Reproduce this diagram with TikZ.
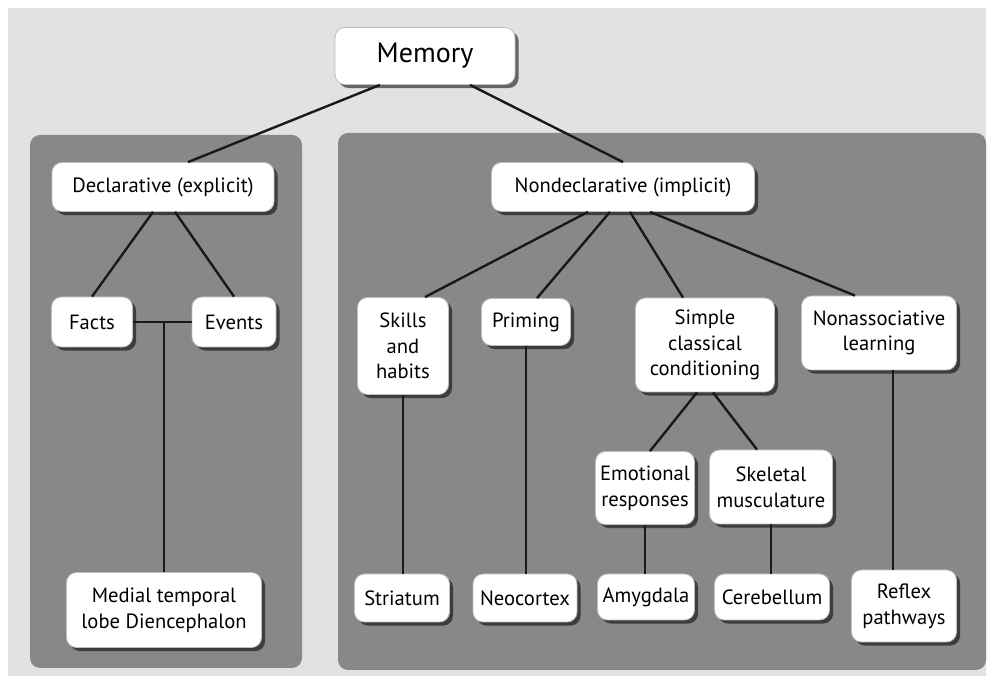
\documentclass[tikz,border=0pt]{standalone}
\usepackage{fontspec}
\setmainfont{PT Sans}
\usetikzlibrary{shadows}
\definecolor{pagegray}{RGB}{226,226,226}
\definecolor{panelgray}{RGB}{136,136,136}
\tikzset{
  box/.style={rounded corners=5pt, fill=white, draw=black!25, line width=0.4pt,
    align=center, inner sep=0pt, font=\fontsize{10.3}{12.8}\selectfont,
    drop shadow={shadow xshift=1.8pt, shadow yshift=-1.8pt, fill=black, opacity=0.55}},
  link/.style={line width=1.2pt, color=black!90}
}

\begin{document}
\begin{tikzpicture}[x=0.5pt, y=-0.5pt]
			%%%%% START %%%%%
			\useasboundingbox (0, 0) rectangle (991, 683);
			\fill[white] (0, 0) rectangle (991, 683);
			\fill[pagegray] (8, 8) rectangle (986, 676);
			
			% the two panels
			\fill[panelgray, rounded corners=5pt] (30, 135) rectangle (302, 668);
			\fill[panelgray, rounded corners=5pt] (338, 133) rectangle (986, 670);
			
			\node[box, minimum width=90pt, minimum height=28.5pt, font=\fontsize{14}{16}\selectfont] (memory) at (425, 56) {Memory};
			
			\node[box, minimum width=111pt, minimum height=24.5pt] (declarative) at (163, 187) {Declarative (explicit)};
			\node[box, minimum width=131.5pt, minimum height=24.5pt] (nondeclarative) at (623, 187) {Nondeclarative (implicit)};
			
			\node[box, minimum width=40.5pt, minimum height=25pt] (facts) at (92, 322) {Facts};
			\node[box, minimum width=42pt, minimum height=25pt] (events) at (234, 322) {Events};
			\node[box, minimum width=97.5pt, minimum height=37.5pt] (medial) at (164, 610) {Medial temporal\\lobe Diencephalon};
			
			\node[box, minimum width=45.5pt, minimum height=48.5pt] (skills) at (403, 346) {Skills\\and\\habits};
			\node[box, minimum width=44.5pt, minimum height=23.5pt] (priming) at (526, 322) {Priming};
			\node[box, minimum width=69.5pt, minimum height=47pt] (classical) at (705, 345) {Simple\\classical\\conditioning};
			\node[box, minimum width=77.5pt, minimum height=37pt] (nonassoc) at (879, 333) {Nonassociative\\learning};
			
			\node[box, minimum width=49.5pt, minimum height=36.5pt] (emotional) at (645, 488) {Emotional\\responses};
			\node[box, minimum width=61.5pt, minimum height=37pt] (skeletal) at (771, 487) {Skeletal\\musculature};
			
			\node[box, minimum width=47.5pt, minimum height=24pt] (striatum) at (402, 598) {Striatum};
			\node[box, minimum width=52pt, minimum height=24pt] (neocortex) at (525, 598) {Neocortex};
			\node[box, minimum width=48.5pt, minimum height=23pt] (amygdala) at (646, 597) {Amygdala};
			\node[box, minimum width=57.5pt, minimum height=23pt] (cerebellum) at (772, 597) {Cerebellum};
			\node[box, minimum width=52.5pt, minimum height=36pt] (reflex) at (904, 606) {Reflex\\pathways};
			
			% links
			\draw[link] ([xshift=-22.5pt]memory.south) -- ([xshift=12.5pt]declarative.north);
			\draw[link] ([xshift=22.5pt]memory.south) -- (nondeclarative.north);
			
			\draw[link] ([xshift=-5pt]declarative.south) -- (facts.north);
			\draw[link] ([xshift=6pt]declarative.south) -- (events.north);
			\draw[link] (facts.east) -- (events.west);
			\draw[link] (facts.east -| medial.north) -- (medial.north);
			
			\draw[link] ([xshift=-17.5pt]nondeclarative.south) -- ([xshift=11pt]skills.north);
			\draw[link] ([xshift=-6.5pt]nondeclarative.south) -- ([xshift=5.5pt]priming.north);
			\draw[link] ([xshift=3.5pt]nondeclarative.south) -- ([xshift=-11pt]classical.north);
			\draw[link] ([xshift=13.5pt]nondeclarative.south) -- ([xshift=-12pt]nonassoc.north);
			
			\draw[link] ([xshift=-4pt]classical.south) -- ([xshift=2.5pt]emotional.north);
			\draw[link] ([xshift=4pt]classical.south) -- ([xshift=-7pt]skeletal.north);
			
			\draw[link] (skills.south) -- (skills.south |- striatum.north);
			\draw[link] (priming.south) -- (priming.south |- neocortex.north);
			\draw[link] (emotional.south) -- (emotional.south |- amygdala.north);
			\draw[link] (skeletal.south) -- (skeletal.south |- cerebellum.north);
			\draw[link] ([xshift=7pt]nonassoc.south) -- ([xshift=7pt]nonassoc.south |- reflex.north);
			%%%%% END %%%%%
\end{tikzpicture}
\end{document}
